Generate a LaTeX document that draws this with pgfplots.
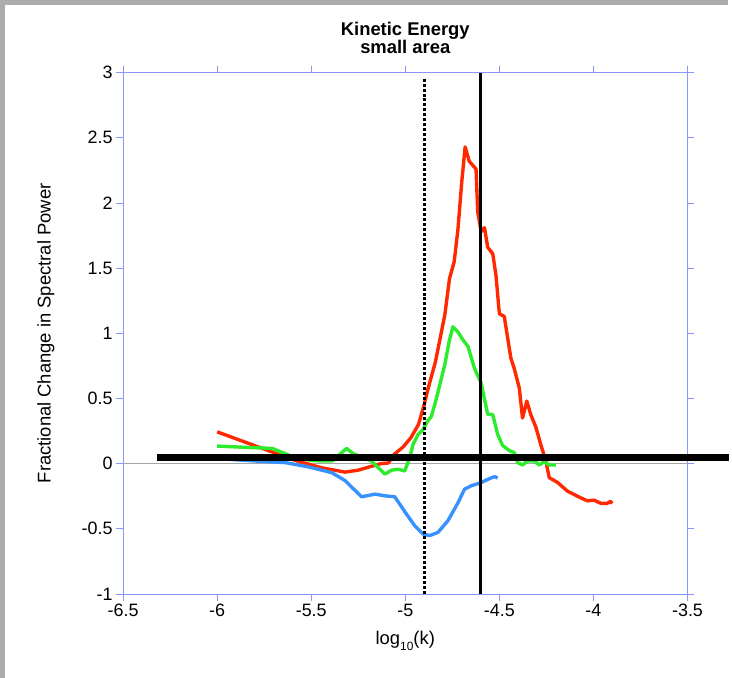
\documentclass[border=0pt]{standalone}
\usepackage{pgfplots}
\pgfplotsset{compat=1.18}
\usepackage{fontspec}
\setmainfont{Liberation Sans}
\definecolor{axisBlue}{RGB}{135,150,255}
\definecolor{curveRed}{RGB}{255,40,0}
\definecolor{curveGreen}{RGB}{45,235,45}
\definecolor{curveBlue}{RGB}{55,145,255}
\definecolor{frameGray}{RGB}{172,172,172}

\begin{document}
\begin{tikzpicture}
  % page frame (1px = 1pt)
  \fill[white] (-123.7pt,-84pt) rectangle (608.3pt,597pt);
  \fill[frameGray] (-123.7pt,592pt) rectangle (608.3pt,597pt);
  \fill[frameGray] (-123.7pt,-84pt) rectangle (-118.7pt,597pt);
  \begin{axis}[
      scale only axis,
      width=567.3pt, height=524pt,
      xmin=-6.5, xmax=-3.5, ymin=-1, ymax=3,
      xtick={-6.5,-6,...,-3.5},
      ytick={-1,-0.5,...,3},
      tick align=outside,
      major tick length=7pt,
      axis line style={axisBlue, line width=0.9pt},
      every tick/.style={axisBlue, line width=0.9pt},
      /pgf/number format/assume math mode=true,
      tick label style={font=\fontsize{18}{21}\selectfont, black},
      clip=false,
      title={Kinetic Energy\\small area},
      title style={align=center, font=\fontsize{18.5}{17.5}\selectfont\bfseries,
        at={(axis description cs:0.5,1.055)}, anchor=center},
      xlabel={log\raisebox{-0.55ex}{\fontsize{12}{12}\selectfont 10}(k)},
      xlabel style={font=\fontsize{18.5}{21}\selectfont,
        at={(axis description cs:0.5,-0.09)}, anchor=center},
      ylabel={Fractional Change in Spectral Power},
      ylabel style={font=\fontsize{18.5}{21}\selectfont,
        at={(axis description cs:-0.137,0.5)}, anchor=center},
    ]
    % zero line
    \addplot[gray!70, line width=0.9pt] coordinates {(-6.5,0) (-3.5,0)};

    % red
    \addplot[curveRed, line width=3.4pt, line join=round] coordinates {
      (-6.0,0.244) (-5.8,0.138) (-5.585,0.025) (-5.45,-0.03) (-5.32,-0.065)
      (-5.25,-0.05) (-5.18,-0.02) (-5.13,0.0) (-5.09,0.005) (-5.06,0.07)
      (-5.01,0.13) (-4.97,0.2) (-4.93,0.3) (-4.90,0.45) (-4.88,0.57)
      (-4.84,0.78) (-4.79,1.14) (-4.765,1.42) (-4.74,1.55) (-4.72,1.80)
      (-4.70,2.16) (-4.682,2.43) (-4.66,2.32) (-4.624,2.26) (-4.615,1.93)
      (-4.597,1.78) (-4.579,1.81) (-4.562,1.66) (-4.535,1.61) (-4.518,1.445)
      (-4.50,1.15) (-4.474,1.13) (-4.439,0.81) (-4.421,0.73) (-4.394,0.58)
      (-4.377,0.35) (-4.354,0.48) (-4.333,0.376) (-4.306,0.28) (-4.28,0.147)
      (-4.253,0.02) (-4.235,-0.107) (-4.19,-0.145) (-4.139,-0.21) (-4.085,-0.25)
      (-4.033,-0.285) (-3.997,-0.28) (-3.96,-0.305) (-3.927,-0.305) (-3.91,-0.29)
      (-3.90,-0.305)
    };

    % green
    \addplot[curveGreen, line width=3.4pt, line join=round] coordinates {
      (-6.0,0.135) (-5.85,0.125) (-5.708,0.117) (-5.673,0.097) (-5.585,0.046)
      (-5.50,0.025) (-5.444,0.02) (-5.39,0.02) (-5.338,0.084) (-5.312,0.117)
      (-5.276,0.076) (-5.25,0.06) (-5.18,0.02) (-5.153,-0.018) (-5.108,-0.08)
      (-5.073,-0.05) (-5.038,-0.043) (-5.003,-0.056) (-4.976,0.046) (-4.959,0.147)
      (-4.932,0.224) (-4.906,0.26) (-4.88,0.33) (-4.862,0.36) (-4.844,0.45)
      (-4.826,0.55) (-4.79,0.76) (-4.765,0.95) (-4.747,1.05) (-4.72,1.01)
      (-4.694,0.95) (-4.667,0.9) (-4.632,0.73) (-4.597,0.62) (-4.58,0.5)
      (-4.562,0.38) (-4.535,0.376) (-4.509,0.224) (-4.483,0.14) (-4.447,0.1)
      (-4.42,0.084) (-4.403,0.008) (-4.377,-0.01) (-4.35,0.02) (-4.315,0.02)
      (-4.288,-0.01) (-4.262,0.015) (-4.235,-0.01) (-4.20,-0.01)
    };

    % blue
    \addplot[curveBlue, line width=3.4pt, line join=round] coordinates {
      (-6.0,0.04) (-5.9,0.03) (-5.796,0.02) (-5.638,0.008) (-5.514,-0.025)
      (-5.391,-0.069) (-5.32,-0.13) (-5.285,-0.18) (-5.232,-0.254) (-5.16,-0.234)
      (-5.108,-0.247) (-5.056,-0.254) (-5.0,-0.374) (-4.95,-0.476) (-4.906,-0.54)
      (-4.87,-0.552) (-4.826,-0.527) (-4.773,-0.437) (-4.72,-0.3) (-4.685,-0.196)
      (-4.65,-0.17) (-4.597,-0.145) (-4.553,-0.115) (-4.526,-0.1) (-4.509,-0.11)
    };

    % vertical markers
    \addplot[black, line width=3pt, dash pattern=on 3pt off 2pt]
      coordinates {(-4.9,-1) (-4.9,2.96)};
    \addplot[black, line width=2.6pt] coordinates {(-4.6,-1) (-4.6,3)};

    % thick horizontal bar
    \addplot[black, line width=7pt] coordinates {(-6.32,0.046) (-3.282,0.046)};
  \end{axis}
\end{tikzpicture}
\end{document}
